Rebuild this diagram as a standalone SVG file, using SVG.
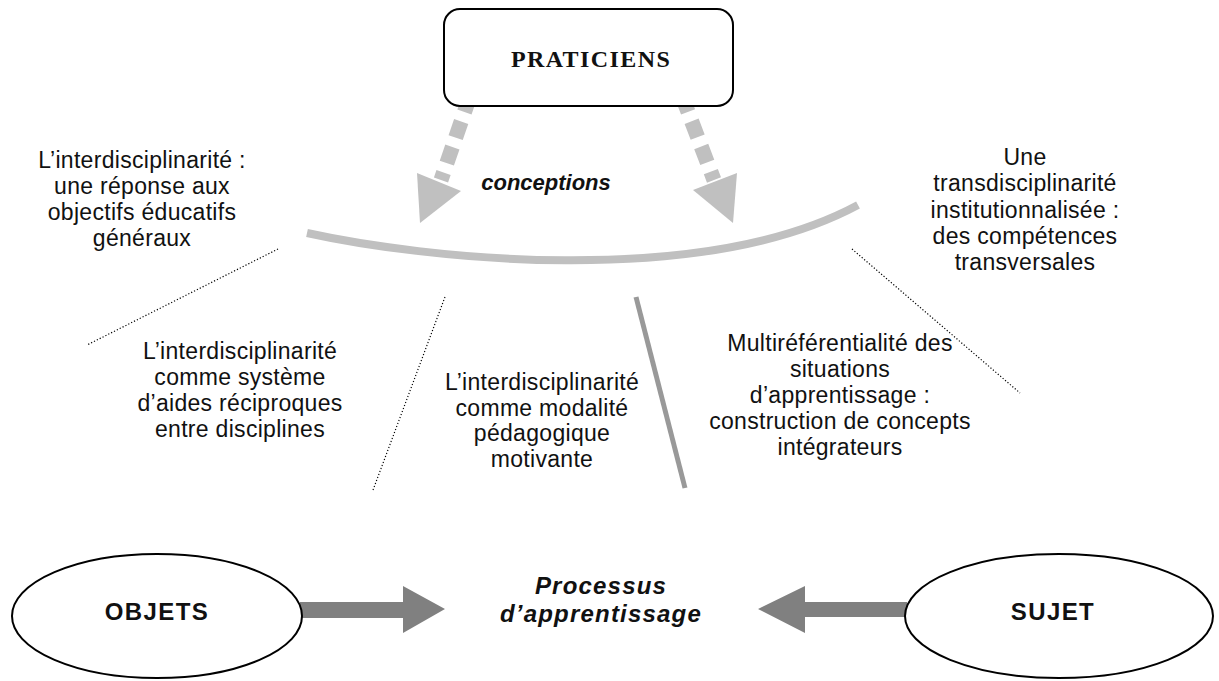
<svg xmlns="http://www.w3.org/2000/svg" width="1219" height="681" viewBox="0 0 1219 681">
  <style>
    .lbl { font-family: "Liberation Sans", Arial, sans-serif; font-size: 23px; letter-spacing: 0.3px; fill: #111; text-anchor: middle; }
    .key { font-family: "Liberation Sans", Arial, sans-serif; font-size: 24px; font-weight: bold; letter-spacing: 1.4px; fill: #111; text-anchor: middle; }
    .emph { font-family: "Liberation Sans", Arial, sans-serif; font-weight: bold; font-style: italic; fill: #111; text-anchor: middle; }
    .node { fill: #fff; stroke: #000; stroke-width: 2; }
    .dot { fill: none; stroke: #000; stroke-width: 1.2; stroke-dasharray: 1.2 2; }
    .soft { fill: #c0c0c0; }
    .dash { fill: none; stroke: #c0c0c0; stroke-width: 15; stroke-dasharray: 17 10; }
    .flow { fill: #808080; }
  </style>

  <!-- connectors: conception arrows, arc, separators, flow arrows -->
  <g id="connectors">
    <path class="dash" d="M470 96 L441 180"/>
    <polygon class="soft" points="417,173 461,191 420,223"/>
    <path class="dash" d="M682 96 L714 180"/>
    <polygon class="soft" points="693,190 737,173 733,223"/>

    <path d="M307 233 C420 258 700 290 858 205" fill="none" stroke="#c0c0c0" stroke-width="8"/>

    <line class="dot" x1="278" y1="249" x2="87" y2="345"/>
    <line class="dot" x1="445" y1="297" x2="373" y2="490"/>
    <line class="dot" x1="852" y1="249" x2="1020" y2="393"/>
    <line x1="636" y1="297" x2="685" y2="488" stroke="#999" stroke-width="5"/>

    <polygon class="flow" points="300,602 403,602 403,586 445,609 403,633 403,618 300,618"/>
    <polygon class="flow" points="907,602 805,602 805,586 758,609 805,633 805,617 907,617"/>
  </g>

  <g id="praticiens">
    <rect class="node" x="444" y="9" width="289" height="97" rx="16"/>
    <text x="591" y="67" font-family="'Liberation Serif', 'Times New Roman', serif" font-size="24" font-weight="bold" letter-spacing="1.4" text-anchor="middle" fill="#111">PRATICIENS</text>
  </g>

  <g id="conceptions">
    <text class="emph" x="546" y="190" font-size="22">conceptions</text>
  </g>

  <g id="objets">
    <ellipse class="node" cx="157" cy="616" rx="145" ry="62"/>
    <text class="key" x="157" y="620">OBJETS</text>
  </g>

  <g id="sujet">
    <ellipse class="node" cx="1059" cy="616" rx="154" ry="62"/>
    <text class="key" x="1053" y="620">SUJET</text>
  </g>

  <g id="processus">
    <text class="emph" font-size="24" letter-spacing="1.2" x="601" y="594">Processus</text>
    <text class="emph" font-size="24" letter-spacing="1.2" x="601" y="622">d’apprentissage</text>
  </g>

  <g id="objectifs-generaux">
    <text class="lbl" x="142" y="168">L’interdisciplinarité :</text>
    <text class="lbl" x="142" y="194">une réponse aux</text>
    <text class="lbl" x="142" y="220">objectifs éducatifs</text>
    <text class="lbl" x="142" y="246">généraux</text>
  </g>

  <g id="aides-reciproques">
    <text class="lbl" x="240" y="359">L’interdisciplinarité</text>
    <text class="lbl" x="240" y="385">comme système</text>
    <text class="lbl" x="240" y="411">d’aides réciproques</text>
    <text class="lbl" x="240" y="437">entre disciplines</text>
  </g>

  <g id="modalite-pedagogique">
    <text class="lbl" x="542" y="390">L’interdisciplinarité</text>
    <text class="lbl" x="542" y="416">comme modalité</text>
    <text class="lbl" x="542" y="441">pédagogique</text>
    <text class="lbl" x="542" y="467">motivante</text>
  </g>

  <g id="multireferentialite">
    <text class="lbl" x="840" y="351">Multiréférentialité des</text>
    <text class="lbl" x="840" y="377">situations</text>
    <text class="lbl" x="840" y="403">d’apprentissage :</text>
    <text class="lbl" x="840" y="429">construction de concepts</text>
    <text class="lbl" x="840" y="455">intégrateurs</text>
  </g>

  <g id="transdisciplinarite">
    <text class="lbl" x="1025" y="165">Une</text>
    <text class="lbl" x="1025" y="191">transdisciplinarité</text>
    <text class="lbl" x="1025" y="218">institutionnalisée :</text>
    <text class="lbl" x="1025" y="244">des compétences</text>
    <text class="lbl" x="1025" y="270">transversales</text>
  </g>
</svg>
